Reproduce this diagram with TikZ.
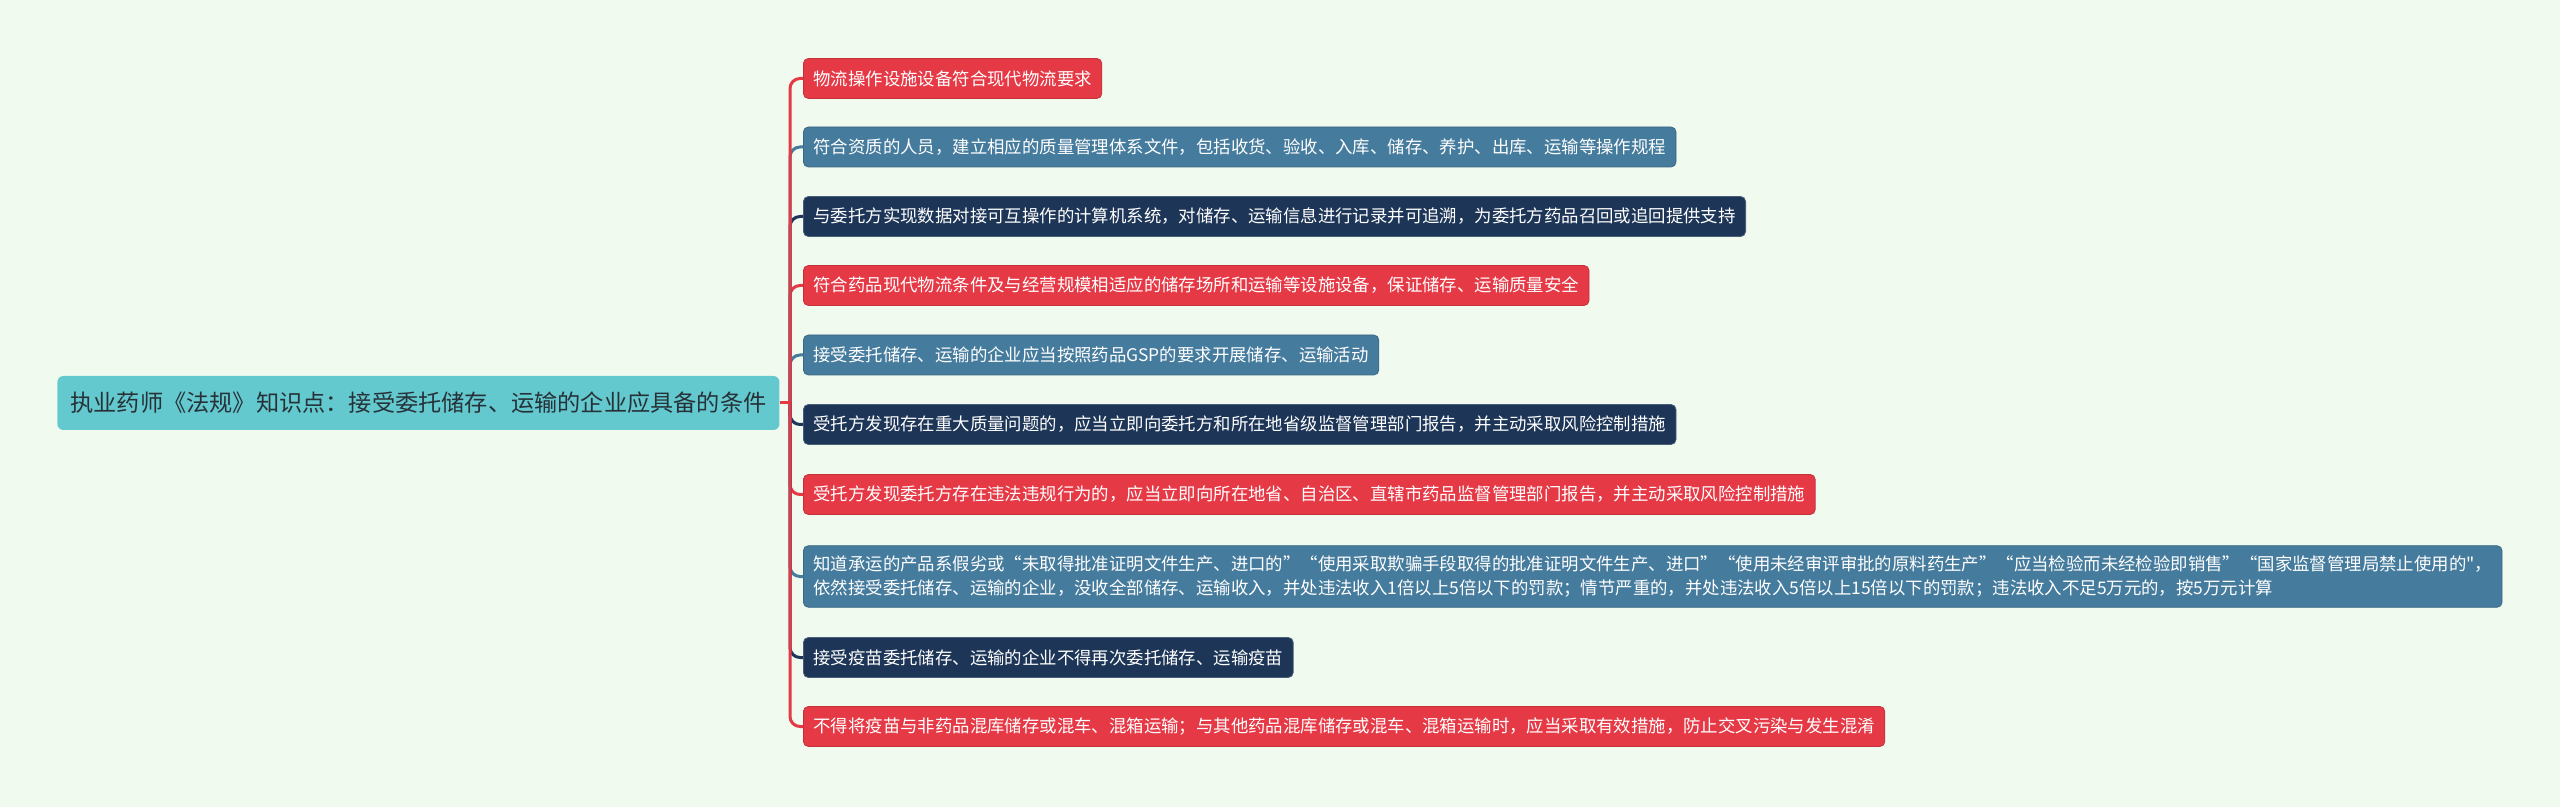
\documentclass[tikz,border=0pt]{standalone}
\usepackage{fontspec}
\setmainfont{Noto Sans CJK SC}
\newfontfamily\plainq{Noto Sans CJK SC}
\definecolor{bgc}{HTML}{F1FAEE}
\definecolor{redc}{HTML}{E63946}
\definecolor{bluec}{HTML}{457B9D}
\definecolor{navyc}{HTML}{1D3557}
\definecolor{rootc}{HTML}{64C9CF}
\definecolor{roottext}{HTML}{263238}

\begin{document}
\begin{tikzpicture}[x=0.5pt,y=-0.5pt,
  leaf/.style={rounded corners=2.5pt, inner xsep=5pt, inner ysep=5pt, minimum height=20pt,
    text=white, font=\fontsize{8.7pt}{12pt}\selectfont, anchor=west, align=left, line width=0.4pt},
  redleaf/.style={leaf, fill=redc, draw=redc!85!black},
  blueleaf/.style={leaf, fill=bluec, draw=bluec!85!black},
  navyleaf/.style={leaf, fill=navyc, draw=navyc!80!white},
  rootbox/.style={rounded corners=3pt, inner xsep=6.5pt, minimum height=27pt, fill=rootc,
    text=roottext, font=\fontsize{11.6pt}{14pt}\selectfont, anchor=west},
  link/.style={line width=1.5pt, rounded corners=5pt}]
\fill [bgc] (0,0) rectangle (2560,807);
\useasboundingbox (0,0) rectangle (2560,807);

% root and trunk
\node [rootbox] (root) at (57,403) {执业药师《法规》知识点：接受委托储存、运输的企业应具备的条件};
\coordinate (trunk) at (790,403);

% leaves
\node [redleaf] (c1) at (803,78.5) {物流操作设施设备符合现代物流要求};
\node [blueleaf] (c2) at (803,147) {符合资质的人员，建立相应的质量管理体系文件，包括收货、验收、入库、储存、养护、出库、运输等操作规程};
\node [navyleaf] (c3) at (803,216.5) {与委托方实现数据对接可互操作的计算机系统，对储存、运输信息进行记录并可追溯，为委托方药品召回或追回提供支持};
\node [redleaf] (c4) at (803,285.5) {符合药品现代物流条件及与经营规模相适应的储存场所和运输等设施设备，保证储存、运输质量安全};
\node [blueleaf] (c5) at (803,355) {接受委托储存、运输的企业应当按照药品GSP的要求开展储存、运输活动};
\node [navyleaf] (c6) at (803,424.5) {受托方发现存在重大质量问题的，应当立即向委托方和所在地省级监督管理部门报告，并主动采取风险控制措施};
\node [redleaf] (c7) at (803,494.5) {受托方发现委托方存在违法违规行为的，应当立即向所在地省、自治区、直辖市药品监督管理部门报告，并主动采取风险控制措施};
\node [blueleaf] (c8) at (803,576.5) {知道承运的产品系假劣或“未取得批准证明文件生产、进口的”“使用采取欺骗手段取得的批准证明文件生产、进口”“使用未经审评审批的原料药生产”“应当检验而未经检验即销售”“国家监督管理局禁止使用的{\plainq"}，\\依然接受委托储存、运输的企业，没收全部储存、运输收入，并处违法收入1倍以上5倍以下的罚款；情节严重的，并处违法收入5倍以上15倍以下的罚款；违法收入不足5万元的，按5万元计算};
\node [navyleaf] (c9) at (803,657.5) {接受疫苗委托储存、运输的企业不得再次委托储存、运输疫苗};
\node [redleaf] (c10) at (803,726.5) {不得将疫苗与非药品混库储存或混车、混箱运输；与其他药品混库储存或混车、混箱运输时，应当采取有效措施，防止交叉污染与发生混淆};

% connectors, outermost last
\draw [link, bluec] (trunk) |- (c5.west);
\draw [link, redc] (trunk) |- (c4.west);
\draw [link, navyc] (trunk) |- (c3.west);
\draw [link, bluec] (trunk) |- (c2.west);
\draw [link, redc] (trunk) |- (c1.west);
\draw [link, navyc] (trunk) |- (c6.west);
\draw [link, redc] (trunk) |- (c7.west);
\draw [link, bluec] (trunk) |- (c8.west);
\draw [link, navyc] (trunk) |- (c9.west);
\draw [link, redc] (trunk) |- (c10.west);
\draw [link, redc] (root.east) -- (trunk);
\end{tikzpicture}
\end{document}
